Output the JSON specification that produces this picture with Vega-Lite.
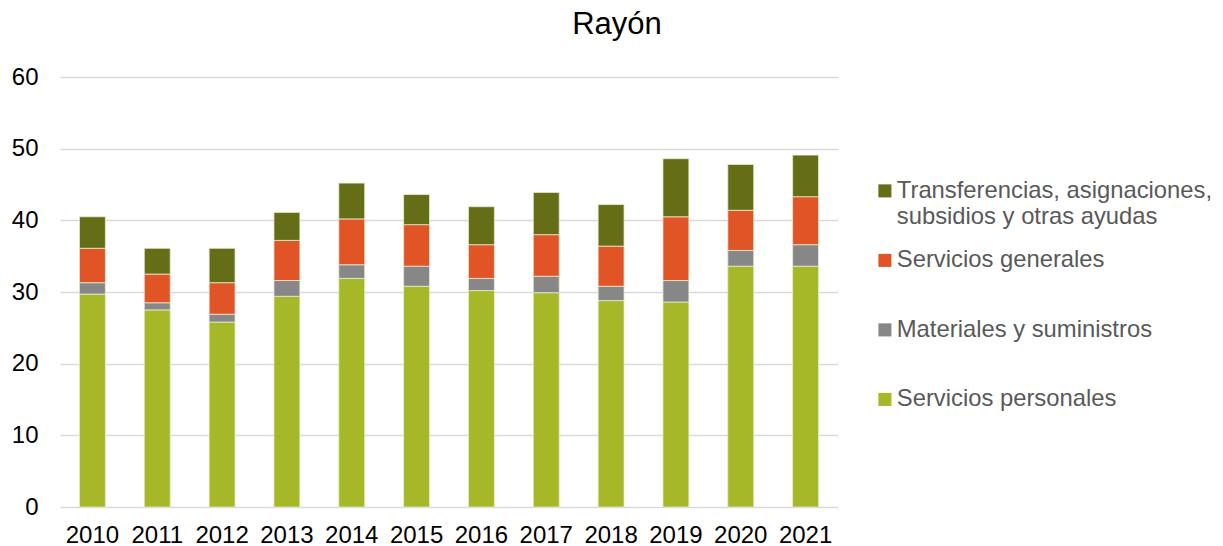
{
  "$schema": "https://vega.github.io/schema/vega-lite/v6.json",
  "autosize": {"type": "none"},
  "padding": {"left": 60, "top": 77, "right": 385, "bottom": 39},
  "width": 778,
  "height": 430,
  "background": "#ffffff",
  "title": {"text": "Rayón", "fontSize": 31, "font": "Liberation Sans", "fontWeight": "normal", "color": "#000000", "anchor": "middle", "dx": 168, "offset": 24},
  "data": {"values": [
    {"year": "2010", "cat": "Servicios personales", "k": 1, "v": 29.7},
    {"year": "2010", "cat": "Materiales y suministros", "k": 2, "v": 1.6},
    {"year": "2010", "cat": "Servicios generales", "k": 3, "v": 4.8},
    {"year": "2010", "cat": "Transferencias, asignaciones, subsidios y otras ayudas", "k": 4, "v": 4.4},
    {"year": "2011", "cat": "Servicios personales", "k": 1, "v": 27.5},
    {"year": "2011", "cat": "Materiales y suministros", "k": 2, "v": 1.0},
    {"year": "2011", "cat": "Servicios generales", "k": 3, "v": 4.0},
    {"year": "2011", "cat": "Transferencias, asignaciones, subsidios y otras ayudas", "k": 4, "v": 3.6},
    {"year": "2012", "cat": "Servicios personales", "k": 1, "v": 25.8},
    {"year": "2012", "cat": "Materiales y suministros", "k": 2, "v": 1.1},
    {"year": "2012", "cat": "Servicios generales", "k": 3, "v": 4.4},
    {"year": "2012", "cat": "Transferencias, asignaciones, subsidios y otras ayudas", "k": 4, "v": 4.8},
    {"year": "2013", "cat": "Servicios personales", "k": 1, "v": 29.4},
    {"year": "2013", "cat": "Materiales y suministros", "k": 2, "v": 2.2},
    {"year": "2013", "cat": "Servicios generales", "k": 3, "v": 5.6},
    {"year": "2013", "cat": "Transferencias, asignaciones, subsidios y otras ayudas", "k": 4, "v": 3.9},
    {"year": "2014", "cat": "Servicios personales", "k": 1, "v": 31.9},
    {"year": "2014", "cat": "Materiales y suministros", "k": 2, "v": 1.9},
    {"year": "2014", "cat": "Servicios generales", "k": 3, "v": 6.4},
    {"year": "2014", "cat": "Transferencias, asignaciones, subsidios y otras ayudas", "k": 4, "v": 5.0},
    {"year": "2015", "cat": "Servicios personales", "k": 1, "v": 30.8},
    {"year": "2015", "cat": "Materiales y suministros", "k": 2, "v": 2.8},
    {"year": "2015", "cat": "Servicios generales", "k": 3, "v": 5.8},
    {"year": "2015", "cat": "Transferencias, asignaciones, subsidios y otras ayudas", "k": 4, "v": 4.2},
    {"year": "2016", "cat": "Servicios personales", "k": 1, "v": 30.2},
    {"year": "2016", "cat": "Materiales y suministros", "k": 2, "v": 1.7},
    {"year": "2016", "cat": "Servicios generales", "k": 3, "v": 4.7},
    {"year": "2016", "cat": "Transferencias, asignaciones, subsidios y otras ayudas", "k": 4, "v": 5.3},
    {"year": "2017", "cat": "Servicios personales", "k": 1, "v": 29.9},
    {"year": "2017", "cat": "Materiales y suministros", "k": 2, "v": 2.3},
    {"year": "2017", "cat": "Servicios generales", "k": 3, "v": 5.8},
    {"year": "2017", "cat": "Transferencias, asignaciones, subsidios y otras ayudas", "k": 4, "v": 5.9},
    {"year": "2018", "cat": "Servicios personales", "k": 1, "v": 28.8},
    {"year": "2018", "cat": "Materiales y suministros", "k": 2, "v": 2.0},
    {"year": "2018", "cat": "Servicios generales", "k": 3, "v": 5.6},
    {"year": "2018", "cat": "Transferencias, asignaciones, subsidios y otras ayudas", "k": 4, "v": 5.8},
    {"year": "2019", "cat": "Servicios personales", "k": 1, "v": 28.6},
    {"year": "2019", "cat": "Materiales y suministros", "k": 2, "v": 3.0},
    {"year": "2019", "cat": "Servicios generales", "k": 3, "v": 8.9},
    {"year": "2019", "cat": "Transferencias, asignaciones, subsidios y otras ayudas", "k": 4, "v": 8.1},
    {"year": "2020", "cat": "Servicios personales", "k": 1, "v": 33.6},
    {"year": "2020", "cat": "Materiales y suministros", "k": 2, "v": 2.2},
    {"year": "2020", "cat": "Servicios generales", "k": 3, "v": 5.6},
    {"year": "2020", "cat": "Transferencias, asignaciones, subsidios y otras ayudas", "k": 4, "v": 6.4},
    {"year": "2021", "cat": "Servicios personales", "k": 1, "v": 33.6},
    {"year": "2021", "cat": "Materiales y suministros", "k": 2, "v": 3.0},
    {"year": "2021", "cat": "Servicios generales", "k": 3, "v": 6.7},
    {"year": "2021", "cat": "Transferencias, asignaciones, subsidios y otras ayudas", "k": 4, "v": 5.8}
  ]},
  "mark": {"type": "bar", "stroke": "#e8ecd0", "strokeWidth": 0.8},
  "encoding": {
    "x": {"field": "year", "type": "nominal", "scale": {"paddingInner": 0.6, "paddingOuter": 0.3},
      "axis": {"title": null, "labelAngle": 0, "labelFontSize": 24, "labelFont": "Liberation Sans", "labelColor": "#000000", "labelPadding": 16, "ticks": false, "domain": false}},
    "y": {"field": "v", "type": "quantitative", "stack": "zero", "scale": {"domain": [0, 60]},
      "axis": {"title": null, "values": [0, 10, 20, 30, 40, 50, 60], "labelFontSize": 24, "labelFont": "Liberation Sans", "labelColor": "#000000", "labelPadding": 22, "ticks": false, "domain": false, "gridColor": "#D9D9D9", "gridWidth": 1.5}},
    "color": {"field": "cat", "type": "nominal",
      "scale": {"domain": ["Transferencias, asignaciones, subsidios y otras ayudas", "Servicios generales", "Materiales y suministros", "Servicios personales"],
                "range": ["#656E16", "#E05426", "#878787", "#A6B727"]},
      "legend": {"title": null, "orient": "none", "legendX": 813, "legendY": 102, "symbolType": "square", "symbolSize": 170, "symbolStrokeWidth": 0,
        "labelFontSize": 23.8, "labelFont": "Liberation Sans", "labelColor": "#595959", "rowPadding": 18.5, "labelLimit": 400, "labelOffset": 0,
        "labelExpr": "datum.label == 'Transferencias, asignaciones, subsidios y otras ayudas' ? ['Transferencias, asignaciones,', 'subsidios y otras ayudas'] : [datum.label, '']"}},
    "order": {"field": "k", "type": "quantitative"}
  },
  "config": {"view": {"stroke": null}}
}
